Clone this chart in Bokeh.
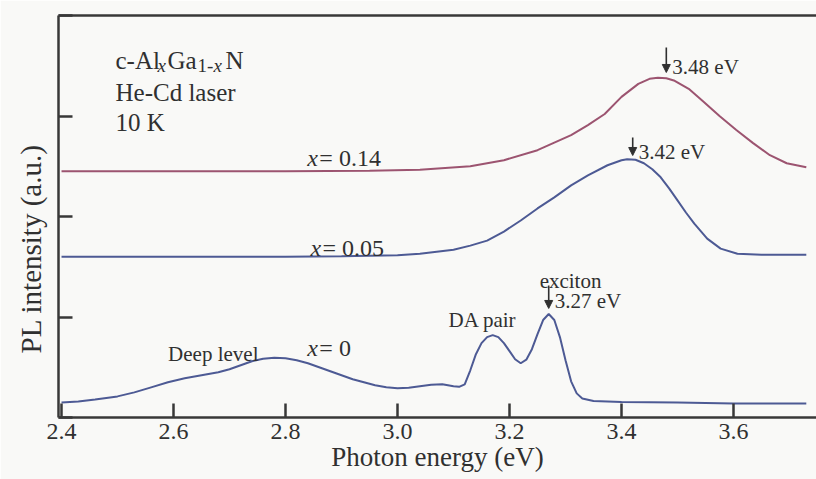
import numpy as np
from bokeh.plotting import figure
from bokeh.models import (LinearAxis, FixedTicker, Range1d, Label, Arrow, NormalHead,
                          PrintfTickFormatter, CustomJSTickFormatter, Title)
from bokeh.embed import file_html
from bokeh.resources import INLINE

# PL spectra of cubic AlxGa1-xN at 10 K (offset vertically, arbitrary units)
energy_x0 = [2.40, 2.43, 2.46, 2.50, 2.53, 2.56, 2.59, 2.62, 2.65, 2.68, 2.70, 2.72,
             2.74, 2.76, 2.78, 2.80, 2.82, 2.84, 2.86, 2.88, 2.90, 2.92, 2.94, 2.96,
             2.98, 3.00, 3.02, 3.04, 3.06, 3.08, 3.10, 3.11, 3.12, 3.13, 3.14, 3.15,
             3.16, 3.17, 3.18, 3.19, 3.20, 3.21, 3.22, 3.23, 3.24, 3.25, 3.26, 3.27,
             3.28, 3.29, 3.30, 3.31, 3.32, 3.33, 3.35, 3.40, 3.50, 3.60, 3.73]
pl_x0 = [0.15, 0.16, 0.18, 0.21, 0.25, 0.30, 0.35, 0.39, 0.42, 0.45, 0.48, 0.52,
         0.56, 0.585, 0.595, 0.59, 0.57, 0.54, 0.50, 0.46, 0.42, 0.38, 0.35, 0.32,
         0.30, 0.29, 0.295, 0.31, 0.325, 0.33, 0.31, 0.305, 0.33, 0.47, 0.63, 0.74,
         0.80, 0.82, 0.80, 0.74, 0.66, 0.58, 0.54, 0.575, 0.68, 0.83, 0.97, 1.03,
         0.97, 0.80, 0.57, 0.36, 0.24, 0.19, 0.165, 0.155, 0.15, 0.14, 0.14]

energy_x005 = [2.40, 2.60, 2.80, 2.90, 3.00, 3.04, 3.10, 3.13, 3.16, 3.19, 3.22, 3.25,
               3.28, 3.31, 3.34, 3.375, 3.40, 3.41, 3.425, 3.44, 3.455, 3.47, 3.485,
               3.50, 3.515, 3.53, 3.553, 3.577, 3.607, 3.65, 3.73]
pl_x005 = [1.60, 1.60, 1.60, 1.605, 1.615, 1.63, 1.67, 1.71, 1.76, 1.85, 1.96, 2.08,
           2.19, 2.31, 2.41, 2.51, 2.56, 2.57, 2.565, 2.53, 2.47, 2.39, 2.28,
           2.16, 2.04, 1.93, 1.78, 1.68, 1.63, 1.62, 1.62]

energy_x014 = [2.40, 2.80, 2.95, 3.04, 3.13, 3.19, 3.25, 3.31, 3.34, 3.37, 3.40, 3.43,
               3.45, 3.465, 3.48, 3.495, 3.52, 3.545, 3.575, 3.605, 3.635, 3.665,
               3.695, 3.73]
pl_x014 = [2.45, 2.45, 2.455, 2.465, 2.50, 2.56, 2.66, 2.81, 2.91, 3.02, 3.19, 3.32,
           3.37, 3.38, 3.375, 3.35, 3.27, 3.15, 3.00, 2.86, 2.73, 2.61,
           2.53, 2.49]

x_ticks = [2.4, 2.6, 2.8, 3.0, 3.2, 3.4, 3.6]
y_ticks = [0, 1, 2, 3, 4]

peak_energies = [3.27, 3.42, 3.48]
peak_labels = ["3.27 eV", "3.42 eV", "3.48 eV"]

FONT = "Liberation Serif"
INK = "#303030"
AXIS = "#383838"
BG = "#f9f9f7"
RED = "#9c5470"
BLUE = "#4d5a94"

p = figure(frame_width=758, frame_height=402,
           x_range=Range1d(2.3946, 3.7482), y_range=Range1d(0, 4),
           x_axis_location=None, y_axis_location=None,
           min_border_left=58, min_border_right=0, min_border_top=15, min_border_bottom=62,
           output_backend="svg", toolbar_location=None,
           background_fill_color=BG, border_fill_color=BG)
p.outline_line_color = None
p.xgrid.visible = False
p.ygrid.visible = False


def style_axis(ax):
    ax.axis_line_color = AXIS
    ax.axis_line_width = 2.5
    ax.major_tick_line_color = AXIS
    ax.major_tick_line_width = 2.5
    ax.major_tick_in = 14
    ax.major_tick_out = 0
    ax.minor_tick_in = 0
    ax.minor_tick_out = 0
    ax.major_label_text_font = FONT
    ax.major_label_text_color = INK
    ax.axis_label_text_font = FONT
    ax.axis_label_text_color = INK
    ax.axis_label_text_font_style = "normal"


xaxis = LinearAxis(ticker=FixedTicker(ticks=x_ticks), formatter=PrintfTickFormatter(format="%.1f"))
style_axis(xaxis)
xaxis.major_label_text_font_size = "24px"
xaxis.major_label_standoff = 6
xaxis.axis_label = "Photon energy (eV)"
xaxis.axis_label_text_font_size = "27px"
xaxis.axis_label_standoff = 0
p.add_layout(xaxis, "below")

yaxis = LinearAxis(ticker=FixedTicker(ticks=y_ticks), formatter=CustomJSTickFormatter(code="return ''"))
style_axis(yaxis)
yaxis.major_label_standoff = 0
yaxis.axis_label_standoff = 0
p.add_layout(yaxis, "left")

top = LinearAxis(ticker=FixedTicker(ticks=[]), formatter=CustomJSTickFormatter(code="return ''"))
style_axis(top)
top.major_label_standoff = 0
top.axis_label_standoff = 0
p.add_layout(top, "above")

# y-axis title, starting a little above the bottom of the frame
p.add_layout(Title(text="PL intensity (a.u.)", align="left", offset=64, standoff=23,
                   text_font=FONT, text_font_size="29px", text_font_style="normal",
                   text_color=INK), "left")

# spectra
p.line(energy_x0, pl_x0, line_color=BLUE, line_width=2)
p.line(energy_x005, pl_x005, line_color=BLUE, line_width=2)
p.line(energy_x014, pl_x014, line_color=RED, line_width=2)


def txt(x, y, text, size, style="normal", dx=0, align="left", baseline="alphabetic"):
    p.add_layout(Label(x=x, y=y, text=text, x_offset=dx, text_font=FONT,
                       text_font_size=f"{size}px", text_font_style=style,
                       text_color=INK, text_align=align, text_baseline=baseline))


# sample description block
lx = 2.4964
txt(lx, 3.552, "c-Al", 25)
txt(lx, 3.502, "x", 19, style="italic", dx=42)
txt(lx, 3.552, "Ga", 25, dx=52)
txt(lx, 3.502, "1-", 19, dx=82)
txt(lx, 3.502, "x", 19, style="italic", dx=98)
txt(lx, 3.552, "N", 25, dx=110)
txt(lx, 3.234, "He-Cd laser", 25)
txt(lx, 2.935, "10 K", 25)

# composition labels
for xx, yy, rest in [(2.839, 2.587, "= 0.14"), (2.8446, 1.682, "= 0.05"), (2.839, 0.687, "= 0")]:
    txt(xx, yy, "x", 24, style="italic")
    txt(xx, yy, rest, 24, dx=12)

# peak markers
arrow_spans = [(1.313, 1.085), (2.786, 2.607), (3.682, 3.433)]
label_base = [1.164, 2.637, 3.483]
for e, lab, (y0, y1), yb in zip(peak_energies, peak_labels, arrow_spans, label_base):
    p.add_layout(Arrow(x_start=e, y_start=y0, x_end=e, y_end=y1, line_color=INK, line_width=1.6,
                       end=NormalHead(size=8, fill_color=INK, line_color=INK)))
    txt(e, yb, lab, 21, dx=6)

txt(3.309, 1.363, "exciton", 21, align="center")
txt(3.152, 0.975, "DA pair", 21, align="center")
txt(2.671, 0.627, "Deep level", 21, align="center")

open("out.html", "w").write(file_html(p, INLINE))
